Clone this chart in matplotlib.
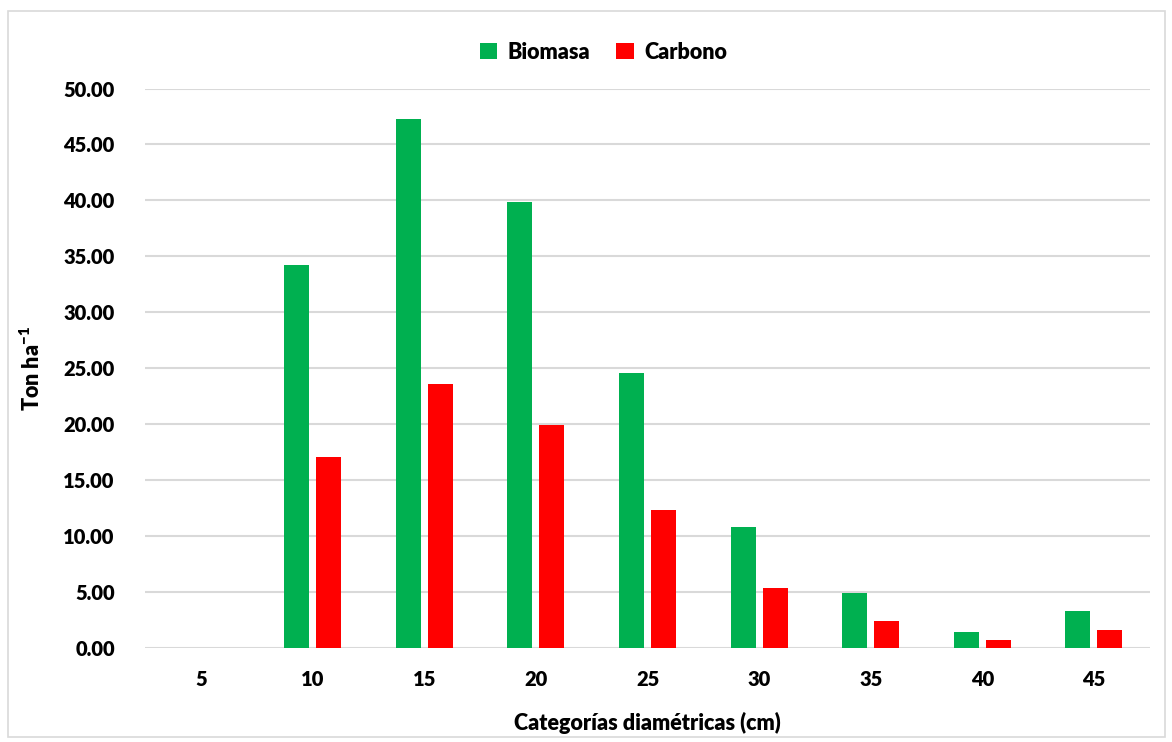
import numpy as np
import matplotlib.pyplot as plt
from matplotlib.patches import Rectangle

categorias = ['5', '10', '15', '20', '25', '30', '35', '40', '45']
biomasa = [0.0, 34.2, 47.3, 39.9, 24.6, 10.8, 4.9, 1.4, 3.3]
carbono = [0.0, 17.1, 23.6, 19.9, 12.3, 5.4, 2.45, 0.7, 1.65]

plt.rcParams['font.family'] = ['Lato', 'DejaVu Sans']
plt.rcParams['font.weight'] = 'heavy'
plt.rcParams['mathtext.fontset'] = 'custom'
plt.rcParams['mathtext.rm'] = 'Lato:heavy'
plt.rcParams['mathtext.bf'] = 'Lato:heavy'

fig = plt.figure(figsize=(11.72, 7.42), dpi=100)
ax = fig.add_axes([0.124, 0.1267, 0.857, 0.754])

x = np.arange(len(categorias))
w = 0.224
ax.bar(x - 0.143, biomasa, w, color='#00b050', label='Biomasa', zorder=3)
ax.bar(x + 0.143, carbono, w, color='#ff0000', label='Carbono', zorder=3)

ax.set_xlim(-0.5, len(categorias) - 0.5)
ax.set_ylim(0, 50)
ax.set_yticks(np.arange(0, 51, 5))
ax.set_yticklabels(['%.2f' % v for v in np.arange(0, 51, 5)])
ax.set_xticks(x)
ax.set_xticklabels(categorias)
ax.tick_params(length=0, labelsize=14.5, pad=22)
ax.tick_params(axis='x', pad=16)
ax.grid(axis='y', color='#d9d9d9', linewidth=1.5, zorder=0)
for s in ax.spines.values():
    s.set_visible(False)

ax.set_xlabel('Categorías diamétricas (cm)', fontsize=15.5, fontweight='heavy', labelpad=16)
ax.set_ylabel('Ton ha$^{-1}$', fontsize=15.5, fontweight='heavy', labelpad=14)

fig.legend(loc='upper center', bbox_to_anchor=(0.515, 0.97), ncol=2, frameon=False,
           fontsize=15.5, handlelength=0.8, handleheight=0.8, columnspacing=1.2, handletextpad=0.5)

fig.patches.append(Rectangle((0.007, 0.007), 0.987, 0.978, transform=fig.transFigure,
                             fill=False, edgecolor='#d9d9d9', linewidth=1.2))

fig.savefig('out.png', dpi=100)
